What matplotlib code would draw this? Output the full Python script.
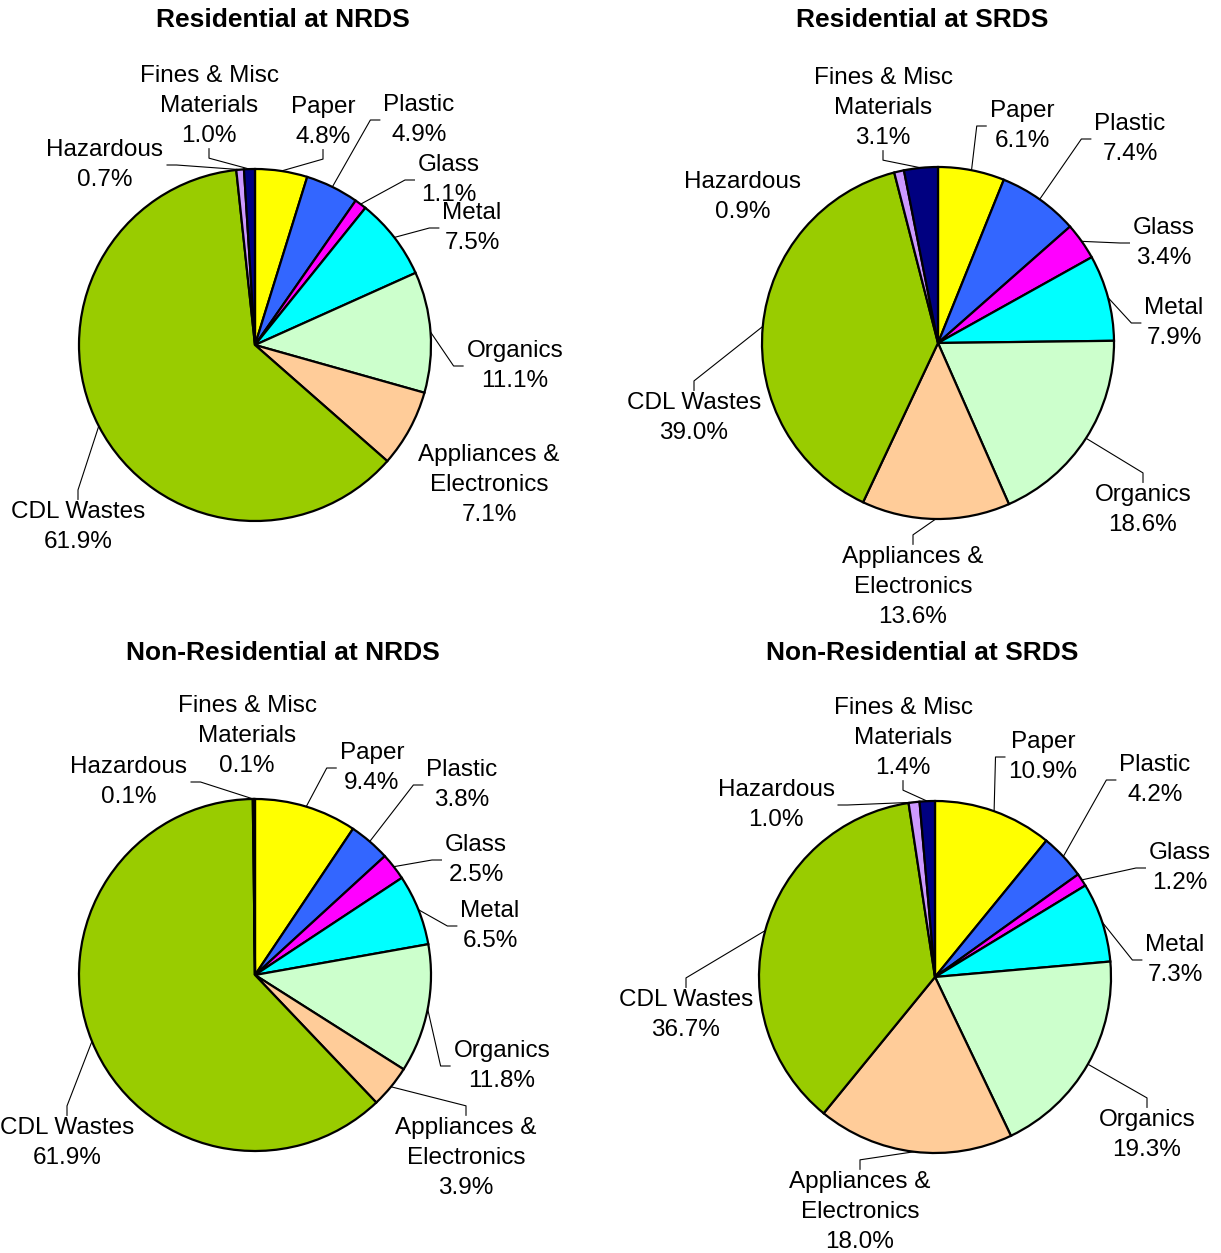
import numpy as np
import matplotlib
matplotlib.use('Agg')
import matplotlib.pyplot as plt

plt.rcParams['font.family'] = ['Liberation Sans', 'DejaVu Sans']

# data
categories = ['Paper', 'Plastic', 'Glass', 'Metal', 'Organics',
              'Appliances &\nElectronics', 'CDL Wastes', 'Hazardous',
              'Fines & Misc\nMaterials']
res_nrds = [4.8, 4.9, 1.1, 7.5, 11.1, 7.1, 61.9, 0.7, 1.0]
res_srds = [6.1, 7.4, 3.4, 7.9, 18.6, 13.6, 39.0, 0.9, 3.1]
nonres_nrds = [9.4, 3.8, 2.5, 6.5, 11.8, 3.9, 61.9, 0.1, 0.1]
nonres_srds = [10.9, 4.2, 1.2, 7.3, 19.3, 18.0, 36.7, 1.0, 1.4]
titles = ['Residential at NRDS', 'Residential at SRDS',
          'Non-Residential at NRDS', 'Non-Residential at SRDS']

colors = ['#FFFF00', '#3366FF', '#FF00FF', '#00FFFF', '#CCFFCC',
          '#FFCC99', '#99CC00', '#CC99FF', '#000080']

# layout (pixel coords, y from top)
W, H = 1221, 1253
R = 176
centers = [(255, 345), (938, 343), (255, 975), (935, 977)]
title_pos = [(283, 20), (922, 20), (283, 653), (922, 653)]
label_pos = [
    [(323, 122), (419, 120), (449, 180), (472, 228), (515, 366),
     (489, 485), (78, 527), (105, 165), (209, 106)],
    [(1022, 126), (1130, 139), (1164, 243), (1174, 323), (1143, 510),
     (913, 587), (694, 418), (743, 197), (883, 108)],
    [(372, 768), (462, 785), (476, 860), (490, 926), (502, 1066),
     (466, 1158), (67, 1143), (129, 782), (247, 736)],
    [(1043, 757), (1155, 780), (1180, 868), (1175, 960), (1147, 1135),
     (860, 1212), (686, 1015), (776, 805), (903, 738)],
]
leader_side = [
    ['b', 'l', 'l', 'l', 'l', 'n', 't', 'r', 'b'],
    ['l', 'l', 'l', 'l', 't', 't', 't', 'n', 'b'],
    ['l', 'l', 'l', 'l', 'l', 't', 't', 'r', 'n'],
    ['l', 'l', 'l', 'l', 't', 't', 't', 'r', 'b'],
]

fig = plt.figure(figsize=(W / 100, H / 100), dpi=100)
ax = fig.add_axes([0, 0, 1, 1])
ax.set_xlim(0, W)
ax.set_ylim(0, H)
ax.set_aspect('equal')
ax.axis('off')

all_data = [res_nrds, res_srds, nonres_nrds, nonres_srds]
charts = []
for k, vals in enumerate(all_data):
    cx, cy = centers[k]
    wedges, _ = ax.pie(vals, colors=colors, startangle=90, counterclock=False,
                       center=(cx, H - cy), radius=R, normalize=True,
                       wedgeprops=dict(edgecolor='black', linewidth=1.6))
    tx, ty = title_pos[k]
    ax.text(tx, H - ty, titles[k], ha='center', va='center',
            fontsize=19, fontweight='bold')
    texts = []
    for i, (cat, v) in enumerate(zip(categories, vals)):
        lx, ly = label_pos[k][i]
        t = ax.text(lx, H - ly, f'{cat}\n{v:.1f}%', ha='center', va='center',
                    fontsize=17.5, multialignment='center', linespacing=1.48)
        texts.append(t)
    charts.append((wedges, texts))

# need text extents for leader lines
ax.set_xlim(0, W)
ax.set_ylim(0, H)
fig.canvas.draw()
renderer = fig.canvas.get_renderer()
inv = ax.transData.inverted()

for k, (wedges, texts) in enumerate(charts):
    for i, (w, t) in enumerate(zip(wedges, texts)):
        side = leader_side[k][i]
        if side == 'n':
            continue
        th = np.deg2rad((w.theta1 + w.theta2) / 2)
        ax_x = w.center[0] + w.r * np.cos(th)
        ax_y = w.center[1] + w.r * np.sin(th)
        bb = t.get_window_extent(renderer).transformed(inv)
        mx = (bb.x0 + bb.x1) / 2
        my = (bb.y0 + bb.y1) / 2
        if side == 'l':
            p0, p1 = (bb.x0 - 3, my), (bb.x0 - 13, my)
        elif side == 'r':
            p0, p1 = (bb.x1 + 3, my), (bb.x1 + 13, my)
        elif side == 'b':
            p0, p1 = (mx, bb.y0 - 1), (mx, bb.y0 - 11)
        else:
            p0, p1 = (mx, bb.y1 + 1), (mx, bb.y1 + 11)
        ax.plot([p0[0], p1[0], ax_x], [p0[1], p1[1], ax_y],
                color='black', linewidth=0.8, solid_capstyle='butt')

fig.savefig('out.png', dpi=100)
plt.close(fig)
